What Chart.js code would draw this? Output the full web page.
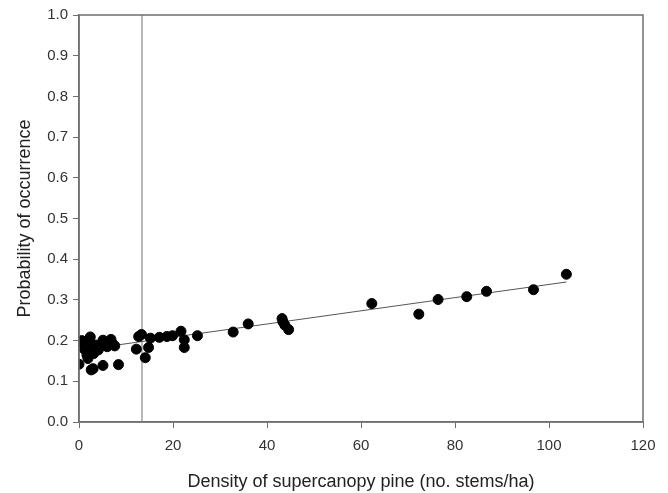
<!DOCTYPE html>
<html>
<head>
<meta charset="utf-8">
<script src="https://cdn.jsdelivr.net/npm/chart.js@4/dist/chart.umd.min.js"></script>
<style>
  html, body { margin: 0; padding: 0; background: #fff; }
  #wrap { width: 668px; height: 493px; }
</style>
</head>
<body>
<div id="wrap"><canvas id="chart" width="668" height="493"></canvas></div>
<script>
// Observed sites: density of supercanopy pine vs. probability of occurrence
const densityX = [
  0, 0.6, 0.9, 1.2, 1.4, 1.7, 1.9, 2.3, 2.4, 2.6, 2.8, 3.0, 3.1, 3.6, 4.1, 4.5,
  5.1, 5.1, 5.5, 6.0, 6.8, 7.1, 7.6, 8.4, 12.2, 12.7, 13.3, 14.1, 14.8, 15.2,
  17.1, 18.7, 19.9, 21.7, 22.4, 22.4, 25.2, 32.8, 36.0, 43.2, 43.4, 43.8, 44.6,
  62.3, 72.3, 76.4, 82.5, 86.7, 96.7, 103.7
];
const probabilityY = [
  0.142, 0.200, 0.193, 0.178, 0.189, 0.164, 0.156, 0.193, 0.209, 0.128, 0.181, 0.131, 0.168, 0.189, 0.177, 0.185,
  0.201, 0.139, 0.189, 0.185, 0.203, 0.193, 0.187, 0.141, 0.179, 0.210, 0.215, 0.158, 0.183, 0.206,
  0.208, 0.210, 0.212, 0.223, 0.202, 0.183, 0.212, 0.221, 0.241, 0.254, 0.246, 0.238, 0.227,
  0.291, 0.265, 0.301, 0.308, 0.321, 0.325, 0.363
];

// Fitted line end points and the threshold marker
const fitX = [0, 103.7];
const fitY = [0.176, 0.344];
const thresholdX = 13.4;
const yRange = [0, 1];

const xTicks = [0, 20, 40, 60, 80, 100, 120];

const frameBox = {
  id: 'frameBox',
  afterDatasetsDraw(chart) {
    const { ctx, chartArea: a } = chart;
    ctx.save();
    ctx.strokeStyle = '#6f6f6f';
    ctx.lineWidth = 1.5;
    ctx.strokeRect(a.left, a.top, a.right - a.left, a.bottom - a.top);
    ctx.restore();
  }
};

const family = '"Liberation Sans", Arial, sans-serif';

new Chart(document.getElementById('chart'), {
  type: 'scatter',
  data: {
    datasets: [
      {
        label: 'Sites',
        data: densityX.map((x, i) => ({ x: x, y: probabilityY[i] })),
        backgroundColor: '#000',
        borderColor: '#000',
        pointRadius: 5,
        order: 1
      },
      {
        label: 'Fit',
        type: 'line',
        data: fitX.map((x, i) => ({ x: x, y: fitY[i] })),
        borderColor: '#555',
        borderWidth: 1,
        pointRadius: 0,
        order: 2
      },
      {
        label: 'Threshold',
        type: 'line',
        data: yRange.map(y => ({ x: thresholdX, y: y })),
        borderColor: '#8a8a8a',
        borderWidth: 1.2,
        pointRadius: 0,
        order: 3
      }
    ]
  },
  options: {
    responsive: false,
    animation: false,
    layout: { padding: { top: 15, right: 25, left: 0, bottom: 0 } },
    plugins: {
      legend: { display: false },
      tooltip: { enabled: false }
    },
    scales: {
      x: {
        type: 'linear',
        min: 0,
        max: 120,
        afterBuildTicks(scale) {
          scale.ticks = xTicks.map(v => ({ value: v }));
        },
        afterFit(scale) { scale.height = 71; },
        border: { display: true, color: '#6f6f6f', width: 1.5 },
        grid: { display: true, drawOnChartArea: false, tickLength: 6, color: '#6f6f6f' },
        ticks: { color: '#333', font: { family: family, size: 15 }, padding: 9, maxRotation: 0 },
        title: {
          display: true,
          text: 'Density of supercanopy pine (no. stems/ha)',
          color: '#222',
          font: { family: family, size: 18 },
          padding: { top: 8, bottom: 0 }
        }
      },
      y: {
        min: 0,
        max: 1,
        afterFit(scale) { scale.width = 79; },
        border: { display: true, color: '#6f6f6f', width: 1.5 },
        grid: { display: true, drawOnChartArea: false, tickLength: 6, color: '#6f6f6f' },
        ticks: {
          stepSize: 0.1,
          color: '#333',
          font: { family: family, size: 15 },
          padding: 5,
          callback: v => v.toFixed(1)
        },
        title: {
          display: true,
          text: 'Probability of occurrence',
          color: '#222',
          font: { family: family, size: 18 },
          padding: { top: 14, bottom: 0 }
        }
      }
    }
  },
  plugins: [frameBox]
});
</script>
</body>
</html>
